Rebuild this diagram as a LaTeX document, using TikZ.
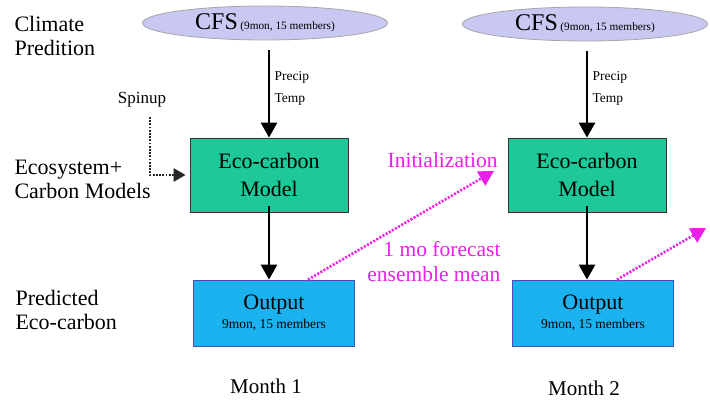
\documentclass[tikz,border=0pt]{standalone}
\usepackage{fontspec}
\setmainfont{Liberation Serif}
\usepackage{xcolor}
\usetikzlibrary{arrows.meta,positioning,shapes.geometric}
\definecolor{cfsfill}{RGB}{200,200,242}
\definecolor{ecofill}{RGB}{30,200,152}
\definecolor{outfill}{RGB}{28,178,240}
\definecolor{initpink}{RGB}{235,30,235}

\begin{document}
\begin{tikzpicture}[x=1pt, y=-1pt,
  rowlab/.style={font=\fontsize{22}{24}\selectfont, align=left, anchor=west},
  cfs/.style={ellipse, draw=gray!70, fill=cfsfill, thick,
    minimum width=245pt, minimum height=34pt, inner sep=0pt},
  modelbox/.style={draw=black!80, thick, fill=ecofill, align=center,
    minimum width=158pt, minimum height=74pt,
    font=\fontsize{22}{28}\selectfont},
  outbox/.style={draw=blue!40!gray, thick, fill=outfill, align=center,
    minimum width=161pt, minimum height=66pt},
  forcing/.style={font=\fontsize{13.5}{22}\selectfont, align=left, anchor=west},
  flow/.style={-{Triangle[length=15pt,width=16pt]}, line width=2.8pt},
  spin/.style={-{Triangle[length=12pt,width=13pt]}, line width=2.6pt,
    dash pattern=on 1.8pt off 1.4pt, black!85},
  init/.style={-{Triangle[length=15pt,width=16pt]}, line width=2.6pt,
    dash pattern=on 2pt off 1.6pt, initpink},
  month/.style={font=\fontsize{21}{24}\selectfont},
]
\useasboundingbox (0,0) rectangle (710,403);

% Row labels
\node[rowlab] (climlab) at (11, 36) {Climate\\Predition};
\node[rowlab] (ecolab) at (11, 179) {Ecosystem+\\Carbon Models};
\node[rowlab] (predlab) at (12, 310) {Predicted\\Eco-carbon};

% Month 1
\node[cfs] (cfs1) at (265, 23)
  {{\fontsize{24}{26}\selectfont CFS} {\fontsize{11.3}{12}\selectfont(9mon, 15 members)}};
\node[modelbox] (eco1) at (269, 175) {Eco-carbon\\Model};
\node[outbox] (out1) at (274, 313)
  {{\fontsize{22}{24}\selectfont Output}\\[4pt]{\fontsize{13.5}{14}\selectfont 9mon, 15 members}};
\node[month] (mon1) at (266, 386) {Month 1};

% Month 2
\node[cfs] (cfs2) at (585, 24)
  {{\fontsize{24}{26}\selectfont CFS} {\fontsize{11.3}{12}\selectfont(9mon, 15 members)}};
\node[modelbox] (eco2) at (587, 175) {Eco-carbon\\Model};
\node[outbox] (out2) at (593, 313)
  {{\fontsize{22}{24}\selectfont Output}\\[4pt]{\fontsize{13.5}{14}\selectfont 9mon, 15 members}};
\node[month] (mon2) at (584, 388) {Month 2};

% Forcing arrows
\draw[flow] (cfs1.south -| eco1.north) ++(0,10) coordinate (f1) -- (eco1.north);
\node[forcing] (forc1) at (271, 88) {Precip\\Temp};
\draw[flow] (cfs2.south -| eco2.north) ++(0,10) coordinate (f2) -- (eco2.north);
\node[forcing] (forc2) at (589, 88) {Precip\\Temp};

\draw[flow] ([yshift=6pt]eco1.south) -- (eco1.south |- out1.north);
\draw[flow] ([yshift=6pt]eco2.south) -- (eco2.south |- out2.north);

% Spinup
\node[font=\fontsize{17}{18}\selectfont] (spinlab) at (142, 100) {Spinup};
\coordinate (spinstart) at (150, 117);
\draw[spin] (spinstart) |- ([xshift=-4pt]eco1.west);

% Initialization
\coordinate (initend) at (494, 171);
\coordinate (nextend) at (706, 228);
\draw[init] ([xshift=34pt]out1.north) -- (initend);
\draw[init] ([xshift=24pt]out2.north) -- (nextend);
\node[anchor=east, text=initpink, font=\fontsize{21.5}{22}\selectfont] (initlab) at (501, 160) {Initialization};
\node[anchor=east, text=initpink, align=right, font=\fontsize{21.5}{25}\selectfont] (meanlab) at (504, 262)
  {1 mo forecast\\ensemble mean};

\end{tikzpicture}
\end{document}
